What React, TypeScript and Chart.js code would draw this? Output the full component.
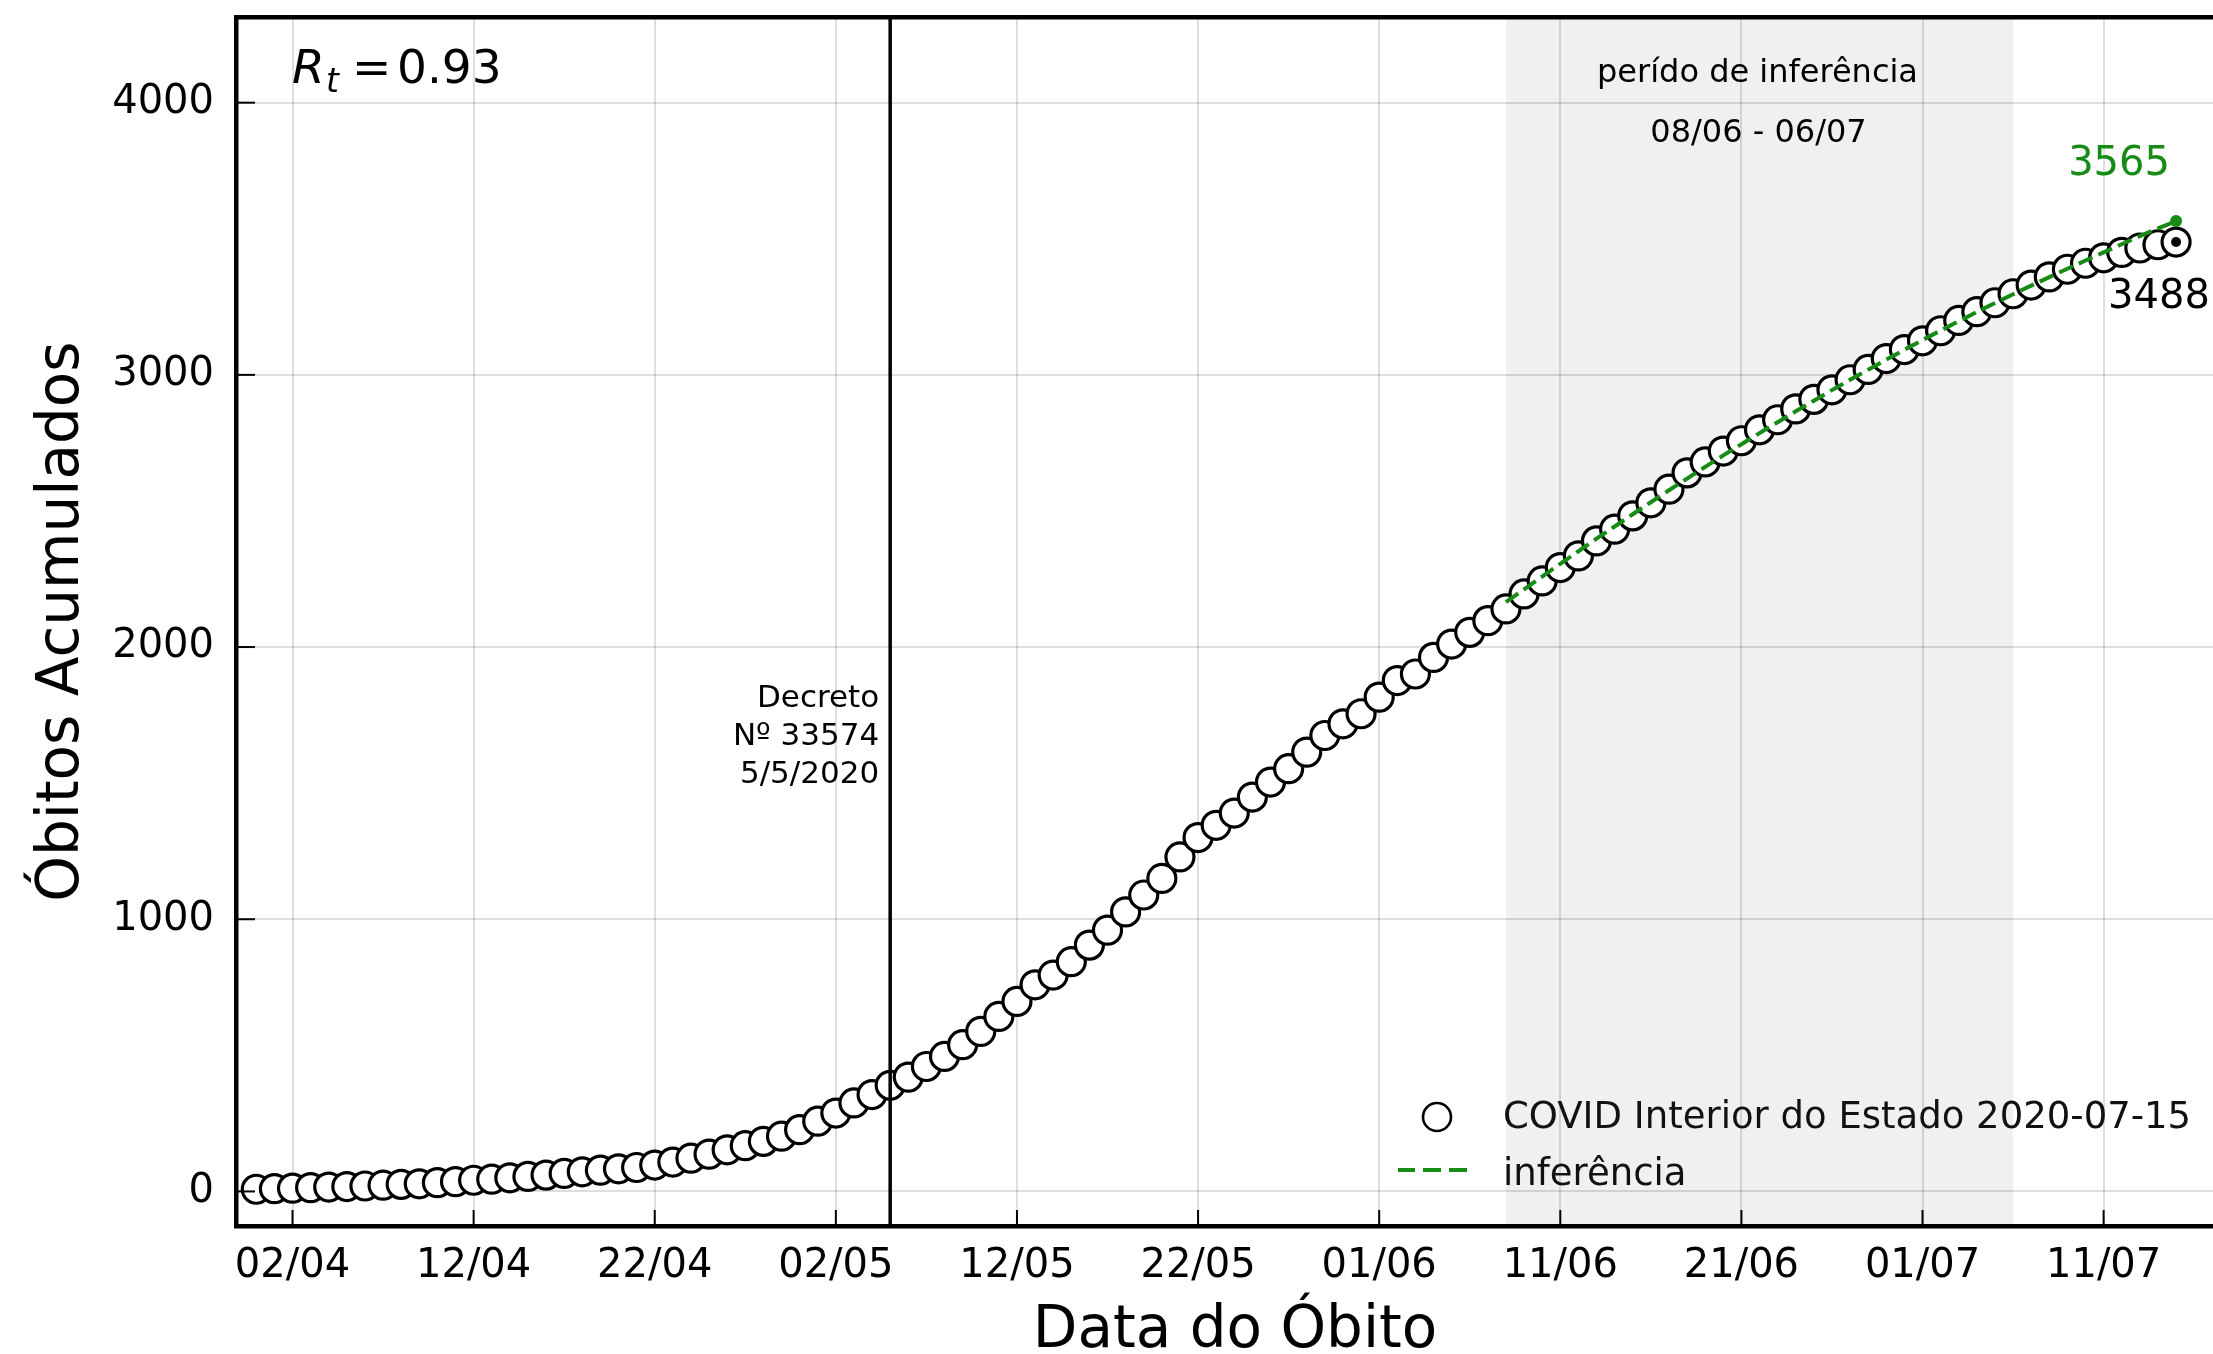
import React, { useEffect, useRef } from 'react';
import { Chart, registerables } from 'chart.js';

Chart.register(...registerables);

// Day offsets are counted from 02/04/2020 (day 0).
const FIRST_DAY = -2; // first observation: 31/03
const deaths = [
  8, 10, 12, 14, 16, 18, 20, 23, 26, 28,
  32, 36, 41, 45, 50, 55, 60, 66, 72, 78,
  83, 88, 97, 108, 122, 137, 153, 168, 184, 203,
  227, 258, 288, 325, 356, 390, 420, 459, 496, 539,
  588, 643, 698, 759, 795, 844, 905, 960, 1027, 1089,
  1150, 1229, 1300, 1345, 1390, 1449, 1504, 1553, 1614, 1675,
  1718, 1755, 1816, 1877, 1901, 1962, 2011, 2054, 2097, 2140,
  2195, 2243, 2292, 2335, 2390, 2433, 2482, 2530, 2580, 2640,
  2680, 2720, 2758, 2798, 2835, 2875, 2910, 2945, 2982, 3020,
  3060, 3093, 3125, 3162, 3200, 3232, 3265, 3298, 3330, 3360,
  3388, 3410, 3430, 3450, 3466, 3478, 3488,
];

const INFERENCE_START_DAY = 67; // 08/06
const inference = [
  2165, 2212, 2259, 2306, 2352, 2398, 2443, 2488, 2532, 2576,
  2619, 2662, 2704, 2745, 2786, 2826, 2866, 2905, 2944, 2982,
  3019, 3056, 3092, 3128, 3163, 3197, 3231, 3264, 3296, 3328,
  3359, 3390, 3420, 3450, 3480, 3510, 3538, 3565,
];

const xTickDays = [0, 10, 20, 30, 40, 50, 60, 70, 80, 90, 100];
const xTickLabels = ['02/04', '12/04', '22/04', '02/05', '12/05', '22/05', '01/06', '11/06', '21/06', '01/07', '11/07'];
const yTicks = [0, 1000, 2000, 3000, 4000];

const SHADE_START_DAY = 67; // 08/06
const SHADE_END_DAY = 95; // 06/07
const DECRETO_DAY = 33; // 05/05
const decretoLines = ['Decreto', 'Nº 33574', '5/5/2020'];
const RT_VALUE = '0.93';
const seriesLabel = 'COVID Interior do Estado 2020-07-15';
const inferenceLabel = 'inferência';
const shadeTitle = 'perído de inferência';
const shadeRange = '08/06 - 06/07';

const X_MIN = -3.12;
const X_MAX = 106.58;
const Y_MIN = -127;
const Y_MAX = 4314;

const FONT = '"DejaVu Sans", sans-serif';
const GREEN = '#168c16';

const overlayPlugin = {
  id: 'overlay',
  beforeDraw(chart: any) {
    const { ctx, chartArea: a, scales } = chart;
    const x = scales.x;
    ctx.save();
    ctx.fillStyle = '#ffffff';
    ctx.fillRect(0, 0, chart.width, chart.height);
    const x0 = x.getPixelForValue(SHADE_START_DAY);
    const x1 = x.getPixelForValue(SHADE_END_DAY);
    ctx.fillStyle = '#f0f0f0';
    ctx.fillRect(x0, a.top, x1 - x0, a.bottom - a.top);
    ctx.restore();
  },
  afterDatasetsDraw(chart: any) {
    const { ctx, chartArea: a, scales } = chart;
    const x = scales.x;
    const y = scales.y;
    const line = (x0: number, y0: number, x1: number, y1: number) => {
      ctx.beginPath();
      ctx.moveTo(x0, y0);
      ctx.lineTo(x1, y1);
      ctx.stroke();
    };
    ctx.save();
    ctx.strokeStyle = '#000';
    ctx.lineCap = 'butt';

    // Decreto vertical line
    const dx = x.getPixelForValue(DECRETO_DAY);
    ctx.lineWidth = 3.5;
    line(dx, a.top, dx, a.bottom);

    // top spine
    ctx.lineWidth = 4.5;
    line(a.left - 2, a.top, a.right, a.top);

    // inward ticks
    ctx.lineWidth = 2;
    xTickDays.forEach((d) => {
      const p = x.getPixelForValue(d);
      line(p, a.bottom, p, a.bottom - 16);
    });
    yTicks.forEach((v) => {
      const p = y.getPixelForValue(v);
      line(a.left, p, a.left + 19, p);
    });

    ctx.fillStyle = '#000';
    ctx.textBaseline = 'alphabetic';

    // Decreto annotation
    ctx.font = `31px ${FONT}`;
    ctx.textAlign = 'right';
    decretoLines.forEach((t, i) => {
      ctx.fillText(t, dx - 11, 707 + i * 38);
    });

    // shaded period labels
    const sc = (x.getPixelForValue(SHADE_START_DAY) + x.getPixelForValue(SHADE_END_DAY)) / 2;
    ctx.textAlign = 'center';
    ctx.font = `32px ${FONT}`;
    ctx.fillText(shadeTitle, sc - 2, a.top + 65);
    ctx.fillText(shadeRange, sc - 1, a.top + 125);

    // R_t annotation
    ctx.textAlign = 'left';
    ctx.font = `italic 47px ${FONT}`;
    ctx.fillText('R', 292, 83);
    ctx.font = `italic 33px ${FONT}`;
    ctx.fillText('t', 326, 92);
    ctx.font = `47px ${FONT}`;
    ctx.fillText('=', 352, 83);
    ctx.fillText(RT_VALUE, 397, 83);

    // end labels
    const lastDay = FIRST_DAY + deaths.length - 1;
    const lastVal = deaths[deaths.length - 1];
    const infDay = INFERENCE_START_DAY + inference.length - 1;
    const infVal = inference[inference.length - 1];
    ctx.font = `40px ${FONT}`;
    ctx.fillStyle = GREEN;
    ctx.textAlign = 'center';
    ctx.fillText(String(infVal), x.getPixelForValue(infDay) - 57, y.getPixelForValue(infVal) - 46);
    ctx.fillStyle = '#000';
    ctx.textAlign = 'left';
    ctx.fillText(String(lastVal), x.getPixelForValue(lastDay) - 68, y.getPixelForValue(lastVal) + 66);

    // legend
    ctx.beginPath();
    ctx.arc(1437, 1117, 14, 0, Math.PI * 2);
    ctx.fillStyle = '#fff';
    ctx.fill();
    ctx.lineWidth = 2.6;
    ctx.strokeStyle = '#000';
    ctx.stroke();
    ctx.strokeStyle = GREEN;
    ctx.lineWidth = 4;
    [[1398, 1415], [1423, 1441], [1449, 1467]].forEach(([s, e]) => line(s, 1170, e, 1170));
    ctx.fillStyle = '#111';
    ctx.font = `37px ${FONT}`;
    ctx.textAlign = 'left';
    ctx.fillText(seriesLabel, 1503, 1128);
    ctx.fillText(inferenceLabel, 1503, 1185);

    // axis titles
    ctx.fillStyle = '#000';
    ctx.font = `58px ${FONT}`;
    ctx.textAlign = 'center';
    ctx.fillText('Data do Óbito', 1235, 1347);
    ctx.save();
    ctx.translate(78, (a.top + a.bottom) / 2);
    ctx.rotate(-Math.PI / 2);
    ctx.fillText('Óbitos Acumulados', 0, 0);
    ctx.restore();

    ctx.restore();
  },
};

export default function App() {
  const canvasRef = useRef<HTMLCanvasElement | null>(null);

  useEffect(() => {
    const canvas = canvasRef.current;
    if (!canvas) return;
    const lastDay = FIRST_DAY + deaths.length - 1;
    const chart = new Chart(canvas, {
      type: 'scatter',
      data: {
        datasets: [
          {
            label: seriesLabel,
            data: deaths.map((v, i) => ({ x: FIRST_DAY + i, y: v })),
            showLine: false,
            pointRadius: 14,
            pointBorderWidth: 3.2,
            pointBackgroundColor: '#ffffff',
            pointBorderColor: '#000000',
            order: 3,
          },
          {
            label: inferenceLabel,
            data: inference.map((v, i) => ({ x: INFERENCE_START_DAY + i, y: v })),
            showLine: true,
            borderColor: GREEN,
            borderWidth: 4,
            borderDash: [15, 6.5],
            pointRadius: (c: any) => (c.dataIndex === inference.length - 1 ? 6 : 0),
            pointBackgroundColor: GREEN,
            pointBorderWidth: 0,
            tension: 0,
            fill: false,
            order: 2,
          },
          {
            label: 'último',
            data: [{ x: lastDay, y: deaths[deaths.length - 1] }],
            showLine: false,
            pointRadius: 5,
            pointBackgroundColor: '#000000',
            pointBorderWidth: 0,
            order: 1,
          },
        ],
      },
      options: {
        responsive: false,
        animation: false,
        devicePixelRatio: 1,
        events: [],
        layout: { padding: { top: 15, right: 5, left: 0, bottom: 0 } },
        plugins: {
          legend: { display: false },
          tooltip: { enabled: false },
          title: { display: false },
        },
        scales: {
          x: {
            type: 'linear',
            min: X_MIN,
            max: X_MAX,
            afterBuildTicks: (axis: any) => {
              axis.ticks = xTickDays.map((v) => ({ value: v }));
            },
            afterFit: (scale: any) => {
              scale.height = 128;
              scale.paddingLeft = 0;
              scale.paddingRight = 0;
              scale.paddingTop = 0;
              scale.paddingBottom = 0;
            },
            ticks: {
              autoSkip: false,
              maxRotation: 0,
              padding: 17,
              color: '#000',
              font: { family: FONT, size: 40 },
              callback: (v: any) => {
                const i = xTickDays.indexOf(Number(v));
                return i >= 0 ? xTickLabels[i] : '';
              },
            },
            grid: { color: 'rgba(0,0,0,0.13)', lineWidth: 2, drawTicks: false },
            border: { display: true, color: '#000', width: 4.5 },
          },
          y: {
            type: 'linear',
            min: Y_MIN,
            max: Y_MAX,
            afterBuildTicks: (axis: any) => {
              axis.ticks = yTicks.map((v) => ({ value: v }));
            },
            afterFit: (scale: any) => {
              scale.width = 236;
              scale.paddingTop = 0;
              scale.paddingBottom = 0;
              scale.paddingLeft = 0;
              scale.paddingRight = 0;
            },
            ticks: {
              padding: 22,
              color: '#000',
              font: { family: FONT, size: 40 },
              callback: (v: any) => String(v),
            },
            grid: { color: 'rgba(0,0,0,0.13)', lineWidth: 2, drawTicks: false },
            border: { display: true, color: '#000', width: 4.5 },
          },
        },
      },
      plugins: [overlayPlugin],
    } as any);
    return () => chart.destroy();
  }, []);

  return (
    <div
      style={{
        position: 'fixed',
        left: 0,
        top: 0,
        width: 2213,
        height: 1354,
        overflow: 'hidden',
        background: '#ffffff',
      }}
    >
      <canvas ref={canvasRef} width={2240} height={1354} style={{ display: 'block' }} />
    </div>
  );
}
